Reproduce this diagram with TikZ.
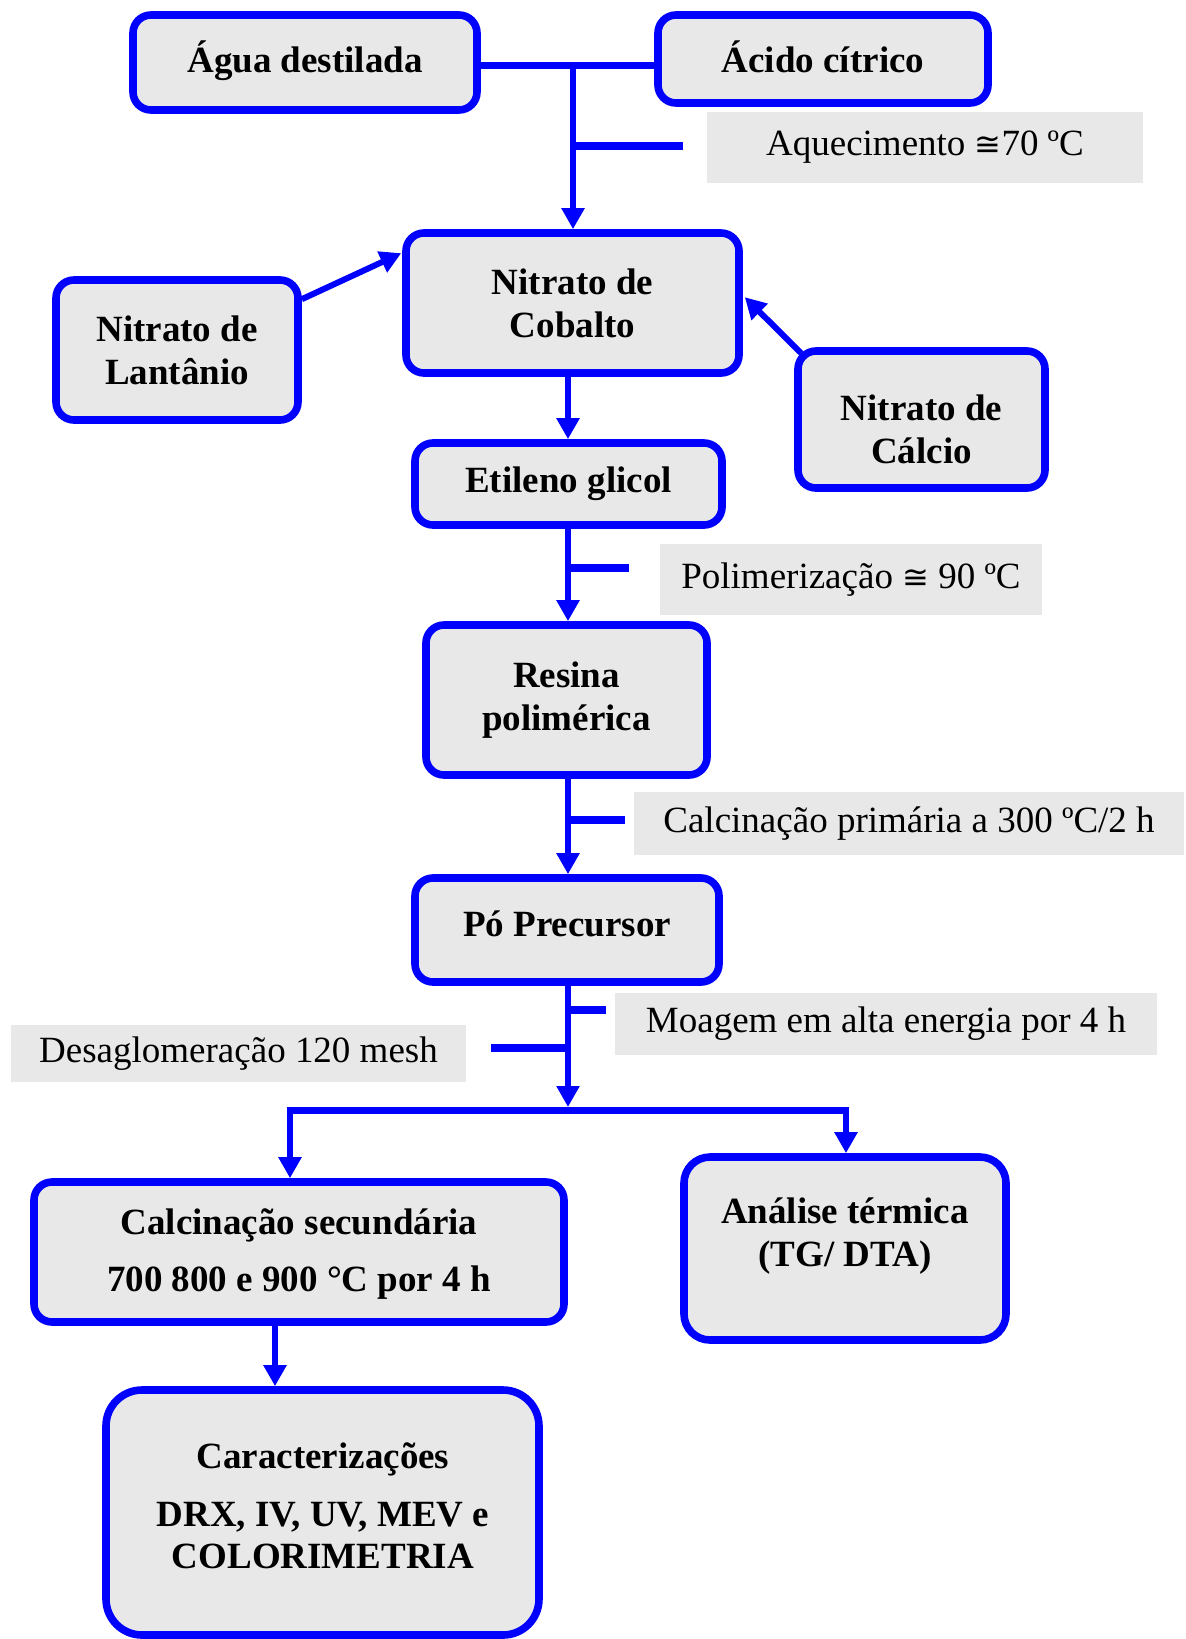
\documentclass[tikz,border=0pt]{standalone}
\usepackage{fontspec}
\setmainfont{Liberation Serif}
\newfontfamily\symfnt{DejaVu Sans}
\usetikzlibrary{arrows.meta,calc,fit}
\definecolor{bl}{HTML}{0000FF}
\definecolor{gr}{HTML}{E8E8E8}
\begin{document}
\begin{tikzpicture}[x=0.5pt,y=-0.5pt,
 box/.style={draw=bl,line width=3.8pt,fill=gr,rounded corners=9pt,inner sep=0pt},
 txt/.style={inner sep=0pt,font=\bfseries\fontsize{18.5}{21.5}\selectfont,align=center},
 lbl/.style={fill=gr,inner sep=0pt},
 ltxt/.style={inner sep=0pt,font=\fontsize{18.5}{22}\selectfont},
 conn/.style={draw=bl,line width=3pt,-{Triangle[length=10.5pt,width=11pt]}},
 tick/.style={draw=bl,line width=4pt},
 bar/.style={draw=bl,line width=3.5pt}]
\useasboundingbox (0,0) rectangle (1185,1639);
% boxes
\node[box,fit={(133,15)(477,110)}] (agua) {};
\node[txt] (aguat) at ($(agua.center)+(0,-2)$) {Água destilada};
\node[box,fit={(658,15)(988,103)}] (acido) {};
\node[txt] (acidot) at ($(acido.center)+(0,-2)$) {Ácido cítrico};
\node[box,fit={(406,233)(739,373)}] (cob) {};
\node[txt] (cobt) at (cob.center) {Nitrato de\\Cobalto};
\node[box,fit={(56,280)(298,420)}] (lan) {};
\node[txt] (lant) at (lan.center) {Nitrato de\\Lantânio};
\node[box,fit={(798,351)(1045,488)}] (cal) {};
\node[txt] (calt) at ($(cal.center)+(0,10)$) {Nitrato de\\Cálcio};
\node[box,fit={(415,443)(722,525)}] (et) {};
\node[txt] (ett) at (et.center) {Etileno glicol};
\node[box,fit={(426,625)(707,775)}] (res) {};
\node[txt] (rest) at (res.center) {Resina\\polimérica};
\node[box,fit={(415,878)(719,982)}] (po) {};
\node[txt] (pot) at ($(po.center)+(0,-6)$) {Pó Precursor};
\node[box,fit={(34,1182)(564,1322)}] (calc) {};
\node[txt] (calct) at ($(calc.center)+(0,2)$) {Calcinação secundária\\[7pt]700 800 e 900 °C por 4 h};
\node[box,rounded corners=13pt,fit={(684,1157)(1006,1340)}] (an) {};
\node[txt] (ant) at (845,1236) {Análise térmica\\(TG/ DTA)};
\node[box,rounded corners=18pt,fit={(106,1390)(539,1635)}] (car) {};
\node[txt,font=\bfseries\fontsize{18.5}{21}\selectfont] (cart) at (323,1506) {Caracterizações\\[8pt]DRX, IV, UV, MEV e\\COLORIMETRIA};
% labels
\node[lbl,fit={(707,112)(1143,183)}] (l1) {};
\node[ltxt] (l1t) at (l1.center) {Aquecimento {\symfnt\fontsize{16}{20}\selectfont ≅}70 ºC};
\node[lbl,fit={(660,544)(1042,615)}] (l2) {};
\node[ltxt] (l2t) at (l2.center) {Polimerização {\symfnt\fontsize{16}{20}\selectfont ≅} 90 ºC};
\node[lbl,fit={(634,792)(1184,855)}] (l3) {};
\node[ltxt] (l3t) at (l3.center) {Calcinação primária a 300 ºC/2 h};
\node[lbl,fit={(615,993)(1157,1055)}] (l4) {};
\node[ltxt] (l4t) at (l4.center) {Moagem em alta energia por 4 h};
\node[lbl,fit={(11,1025)(466,1082)}] (l5) {};
\node[ltxt] (l5t) at (l5.center) {Desaglomeração 120 mesh};
% top junction
\coordinate (jt) at (573,65);
\draw[bar] (agua.east |- jt) -- (acido.west |- jt);
\draw[conn] (jt) -- (cob.north -| jt);
\coordinate (t1a) at (573,146);
\coordinate (t1b) at (683,146);
\draw[tick] (t1a) -- (t1b);
% side arrows
\draw[conn] ($(lan.north east)+(0,23)$) -- ($(cob.north west)+(-1,24)$);
\draw[conn] ($(cal.north west)+(7,6)$) -- ($(cob.north east)+(2,68)$);
% chain
\coordinate (cx) at (568,0);
\draw[conn] (cob.south -| cx) -- (et.north -| cx);
\draw[conn] (et.south -| cx) -- (res.north -| cx);
\coordinate (t2a) at (568,568);
\coordinate (t2b) at (629,568);
\draw[tick] (t2a) -- (t2b);
\draw[conn] (res.south -| cx) -- (po.north -| cx);
\coordinate (t3a) at (568,820);
\coordinate (t3b) at (625,820);
\draw[tick] (t3a) -- (t3b);
\coordinate (jb) at (568,1110);
\draw[conn] (po.south -| cx) -- ($(jb)+(0,-3)$);
\coordinate (t4a) at (568,1010);
\coordinate (t4b) at (606,1010);
\draw[tick] (t4a) -- (t4b);
\coordinate (t5a) at (491,1048);
\coordinate (t5b) at (568,1048);
\draw[tick] (t5a) -- (t5b);
% bottom branches
\coordinate (jl) at (290,1110);
\coordinate (jr) at (846,1110);
\draw[bar] ($(jl)+(-3,0)$) -- ($(jr)+(3,0)$);
\draw[conn] (jl) -- (calc.north -| jl);
\draw[conn] (jr) -- (an.north -| jr);
\coordinate (ca) at (275,0);
\draw[conn] (calc.south -| ca) -- (car.north -| ca);
\end{tikzpicture}
\end{document}
